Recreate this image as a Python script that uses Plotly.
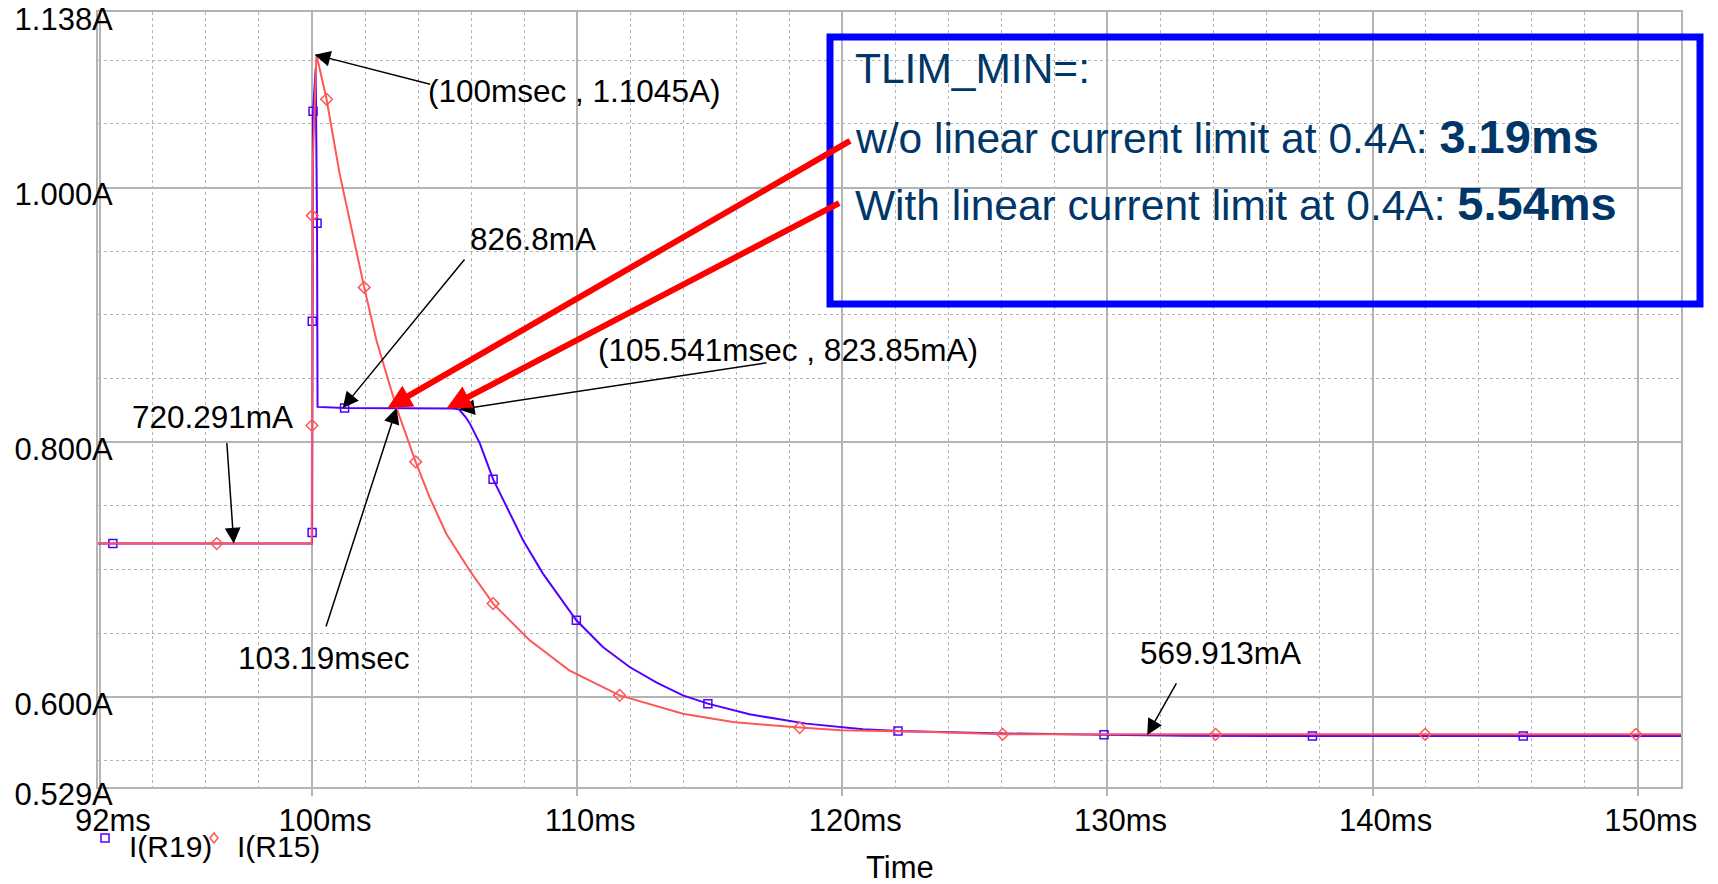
import plotly.graph_objects as go

# ---------------- data ----------------
# I(R19): with linear current limit (blue, square markers)
r19_t = [91.93, 92.49, 100.0, 100.005, 100.01, 100.04, 100.14, 100.19, 100.21, 101.23,
         103.5, 105.3, 105.541, 105.8, 105.95, 106.33, 106.83, 107.33, 107.96, 108.71,
         109.97, 110.97, 111.98, 113.0, 113.99, 114.93, 116.5, 118.64, 120.78, 122.1,
         123.29, 125.68, 129.87, 133.0, 137.73, 145.68, 151.63]
r19_i = [0.7203, 0.7203, 0.7203, 0.729, 0.8949, 1.060, 1.0937, 0.972, 0.8277, 0.8268,
         0.8267, 0.8265, 0.8258, 0.8195, 0.8147, 0.799, 0.7709, 0.7491, 0.7229, 0.6967,
         0.660, 0.639, 0.6233, 0.611, 0.601, 0.5945, 0.5861, 0.5788, 0.5744, 0.573,
         0.5722, 0.5712, 0.5700, 0.5692, 0.5691, 0.5691, 0.5691]
r19_marker_idx = [1, 3, 4, 5, 7, 9, 16, 20, 25, 29, 32, 34, 35]

# I(R15): without linear current limit (red, diamond markers)
r15_t = [91.93, 96.41, 99.99, 100.0, 100.01, 100.03, 100.17, 100.55, 101.04, 101.57,
         101.97, 102.43, 103.19, 103.91, 104.43, 105.06, 105.94, 106.83, 108.2, 109.7,
         111.1, 111.6, 113.99, 115.87, 118.39, 119.96, 123.42, 126.05, 134.08, 141.98,
         149.93, 151.63]
r15_i = [0.7203, 0.7203, 0.7203, 0.813, 0.978, 1.0193, 1.1045, 1.0694, 1.0112, 0.9588,
         0.9216, 0.8801, 0.8268, 0.7845, 0.757, 0.7282, 0.6993, 0.6731, 0.6445, 0.6207,
         0.6063, 0.601, 0.5866, 0.580, 0.5757, 0.5736, 0.5722, 0.5704, 0.5704, 0.5704,
         0.5704, 0.5704]
r15_marker_idx = [1, 3, 4, 7, 10, 13, 17, 21, 24, 27, 28, 29, 30]

x_range = [91.93, 151.63]
y_range = [0.529, 1.138]
x_tick_vals = [92, 100, 110, 120, 130, 140, 150]
x_tick_text = ["92ms", "100ms", "110ms", "120ms", "130ms", "140ms", "150ms"]
y_tick_vals = [0.5291, 0.6, 0.8, 1.0, 1.1379]
y_tick_text = ["0.529A", "0.600A", "0.800A", "1.000A", "1.138A"]

# measurement callouts: (label text, tip time [ms], tip current [A])
peak_pt = ("(100msec , 1.1045A)", 100.1, 1.1045)
lim_start_pt = ("826.8mA", 101.16, 0.8268)
pre_pt = ("720.291mA", 97.05, 0.7203)
cross_pt = ("103.19msec", 103.19, 0.8268)
lim_end_pt = ("(105.541msec , 823.85mA)", 105.541, 0.8256)
final_pt = ("569.913mA", 131.5, 0.5699)
tlim_wo = ("3.19ms", 102.85, 0.8268)
tlim_with = ("5.54ms", 105.08, 0.8266)

BLUE = "#5200ff"
RED = "#ff5757"
NAVY = "#003768"
GRID = "#b4b4b4"
FONT = "Liberation Sans, Arial, sans-serif"

# plot-area geometry (pixels) used to place the free text
PL, PR, PT, PB = 98, 1681, 12, 787


def fx(xp):
    return (xp - PL) / (PR - PL)


def fy(yp):
    return (PB - yp) / (PB - PT)


fig = go.Figure()

fig.add_trace(go.Scatter(x=r19_t, y=r19_i, mode="lines", name="I(R19)",
                         line=dict(color=BLUE, width=2), showlegend=False))
fig.add_trace(go.Scatter(x=[r19_t[k] for k in r19_marker_idx],
                         y=[r19_i[k] for k in r19_marker_idx], mode="markers",
                         marker=dict(symbol="square-open", size=8, color=BLUE,
                                     line=dict(width=1.5, color=BLUE)),
                         showlegend=False))
fig.add_trace(go.Scatter(x=r15_t, y=r15_i, mode="lines", name="I(R15)",
                         line=dict(color=RED, width=2), showlegend=False))
fig.add_trace(go.Scatter(x=[r15_t[k] for k in r15_marker_idx],
                         y=[r15_i[k] for k in r15_marker_idx], mode="markers",
                         marker=dict(symbol="diamond-open", size=9, color=RED,
                                     line=dict(width=1.5, color=RED)),
                         showlegend=False))

ann = []
tfont = dict(family=FONT, size=31.5, color="black")

# black callout arrows (tail offsets in px relative to the tip)
arrow_specs = [(peak_pt, 117, 30), (lim_start_pt, 123, -150), (pre_pt, -7, -102),
               (cross_pt, -71, 220), (lim_end_pt, 309, -47), (final_pt, 30, -53)]
for (lbl, t, i), axp, ayp in arrow_specs:
    ann.append(dict(x=t, y=i, xref="x", yref="y", text="", showarrow=True,
                    ax=axp, ay=ayp, arrowhead=2, arrowsize=2.1, arrowwidth=1.5,
                    arrowcolor="black", standoff=0))

# callout labels (left edge px, cap-centre px)
label_pos = [(peak_pt, 426, 91), (lim_start_pt, 468, 239), (pre_pt, 130, 417),
             (cross_pt, 236, 658), (lim_end_pt, 596, 350), (final_pt, 1138, 653)]
for (lbl, t, i), lx, ly in label_pos:
    ann.append(dict(x=fx(lx), y=fy(ly), xref="paper", yref="paper", text=lbl,
                    showarrow=False, xanchor="left", yanchor="middle", font=tfont))

# thick red arrows from the text box
for (lbl, t, i), axp, ayp in [(tlim_wo, 464, -268), (tlim_with, 394, -206)]:
    ann.append(dict(x=t, y=i, xref="x", yref="y", text="", showarrow=True,
                    ax=axp, ay=ayp, arrowhead=2, arrowsize=0.8, arrowwidth=6,
                    arrowcolor="#ff0000", standoff=0))

# text box content
bfont = dict(family=FONT, size=42.5, color=NAVY)
ann.append(dict(x=fx(853), y=fy(68), xref="paper", yref="paper", text="TLIM_MIN=:",
                showarrow=False, xanchor="left", yanchor="middle", font=bfont))
ann.append(dict(x=fx(853), y=fy(136), xref="paper", yref="paper",
                text="w/o linear current limit at 0.4A: <b><span style='font-size:47px'>"
                     + tlim_wo[0] + "</span></b>",
                showarrow=False, xanchor="left", yanchor="middle", font=bfont))
ann.append(dict(x=fx(853), y=fy(203), xref="paper", yref="paper",
                text="With linear current limit at 0.4A: <b><span style='font-size:47px'>"
                     + tlim_with[0] + "</span></b>",
                showarrow=False, xanchor="left", yanchor="middle", font=bfont))

# legend (PSpice style) and axis title
ann.append(dict(x=fx(127), y=fy(846), xref="paper", yref="paper", text="I(R19)",
                showarrow=False, xanchor="left", yanchor="middle",
                font=dict(family=FONT, size=30, color="black")))
ann.append(dict(x=fx(235), y=fy(846), xref="paper", yref="paper", text="I(R15)",
                showarrow=False, xanchor="left", yanchor="middle",
                font=dict(family=FONT, size=30, color="black")))
ann.append(dict(x=fx(900), y=fy(867), xref="paper", yref="paper", text="Time",
                showarrow=False, xanchor="center", yanchor="middle",
                font=dict(family=FONT, size=31, color="black")))

shapes = [
    dict(type="rect", xref="paper", yref="paper", x0=fx(830), x1=fx(1700),
         y0=fy(304), y1=fy(37), line=dict(color="#0000ff", width=7),
         fillcolor="rgba(0,0,0,0)", layer="above"),
    dict(type="rect", xref="paper", yref="paper", xsizemode="pixel",
         ysizemode="pixel", xanchor=fx(105), yanchor=fy(838),
         x0=-4, x1=4, y0=-4, y1=4, line=dict(color=BLUE, width=1.5)),
    dict(type="path", xref="paper", yref="paper", xsizemode="pixel",
         ysizemode="pixel", xanchor=fx(214), yanchor=fy(838),
         path="M 0 5 L 4 0 L 0 -5 L -4 0 Z", line=dict(color=RED, width=1.5)),
]

fig.update_layout(
    width=1718, height=884,
    margin=dict(l=PL, r=1718 - PR, t=PT, b=884 - PB, pad=0, autoexpand=False),
    paper_bgcolor="white", plot_bgcolor="white",
    font=dict(family=FONT, size=31, color="black"),
    showlegend=False,
    annotations=ann, shapes=shapes,
    xaxis=dict(range=x_range, tickmode="array", tickvals=x_tick_vals,
               ticktext=x_tick_text, showgrid=True, gridcolor=GRID, gridwidth=2,
               zeroline=False, showline=True, mirror=True, linecolor=GRID,
               linewidth=2, ticks="outside", ticklen=7, tickcolor=GRID, tickwidth=2,
               automargin=False,
               tickfont=dict(family=FONT, size=31, color="black"),
               ticklabelshift=13, ticklabelstandoff=-2,
               minor=dict(tickmode="linear", tick0=0, dtick=2, showgrid=True,
                          gridcolor=GRID, griddash="dot", gridwidth=1, ticks="")),
    yaxis=dict(range=y_range, tickmode="array", tickvals=y_tick_vals,
               ticktext=y_tick_text, showgrid=True, gridcolor=GRID, gridwidth=2,
               zeroline=False, showline=True, mirror=True, linecolor=GRID,
               linewidth=2, ticks="", automargin=False,
               tickfont=dict(family=FONT, size=31, color="black"),
               ticklabelshift=7, ticklabelstandoff=-23,
               minor=dict(tickmode="linear", tick0=0, dtick=0.05, showgrid=True,
                          gridcolor=GRID, griddash="dot", gridwidth=1, ticks="")),
)

fig.write_html("out.html")
